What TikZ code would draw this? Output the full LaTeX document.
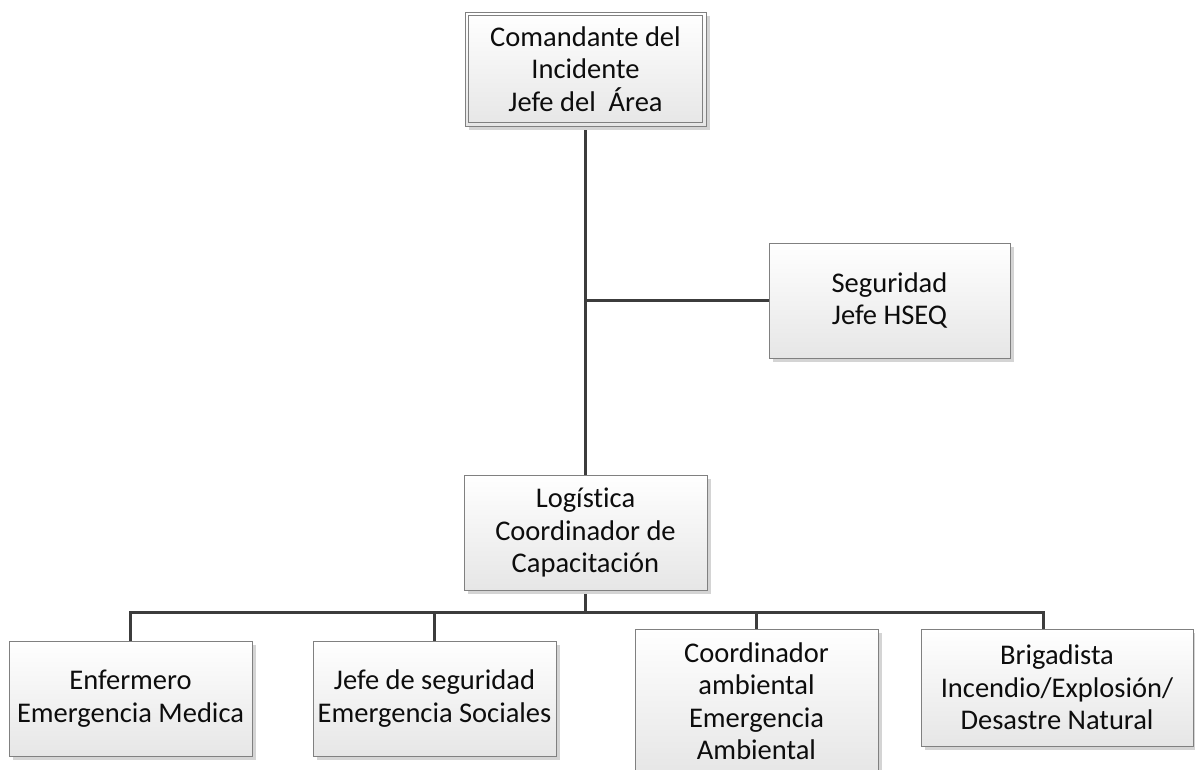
\documentclass[tikz,border=0pt]{standalone}
\usepackage{fontspec}
\setmainfont[Ligatures={NoCommon}]{Carlito}
\usetikzlibrary{shadows,backgrounds}
\definecolor{linec}{HTML}{3C3C3C}
\definecolor{boxborder}{HTML}{808080}
\definecolor{boxbottom}{HTML}{E6E6E6}
\definecolor{shadowc}{HTML}{D4D4D4}
\definecolor{textc}{HTML}{0D0D0D}
\tikzset{
  orgbox/.style={draw=boxborder, line width=0.8pt, top color=white, bottom color=boxbottom,
    drop shadow={shadow xshift=4pt, shadow yshift=-4pt, fill=shadowc, opacity=1},
    align=center, inner sep=0pt, text=textc,
    font=\fontsize{28.5}{32.5}\selectfont},
  conn/.style={draw=linec, line width=3pt}
}
\begin{document}
\begin{tikzpicture}[x=1pt,y=-1pt]
\useasboundingbox (0,0) rectangle (1195,770);
\clip (0,0) rectangle (1195,770);
\node[orgbox, minimum width=241pt, minimum height=114pt] (top) at (585.5,69) {Comandante del\\Incidente\\Jefe del~ Área};
\draw[boxborder, line width=0.8pt] ([xshift=4pt,yshift=-4pt]top.north west) rectangle ([xshift=-4pt,yshift=4pt]top.south east);
\node[orgbox, minimum width=241pt, minimum height=115pt] (seg) at (889.5,300.5) {Seguridad\\Jefe HSEQ};
\node[orgbox, minimum width=243pt, minimum height=115pt] (log) at (585.5,532.5) {Logística\\Coordinador de\\Capacitación};
\node[orgbox, minimum width=243pt, minimum height=115pt] (enf) at (130.5,698.5) {Enfermero\\Emergencia Medica};
\node[orgbox, minimum width=243pt, minimum height=115pt] (jefe) at (434.5,698.5) {Jefe de seguridad\\Emergencia Sociales};
\node[orgbox, minimum width=243pt, minimum height=144pt] (coord) at (756.5,701) {Coordinador\\ambiental\\Emergencia\\Ambiental};
\node[orgbox, minimum width=272pt, minimum height=117pt] (brig) at (1057,687.5) {Brigadista\\Incendio/Explosión/\\Desastre Natural};
\coordinate (bus) at (0,612);
\coordinate (bdrop) at (1043,612);
\begin{pgfonlayer}{background}
\draw[conn] (top.south) -- (log.north);
\draw[conn] (top.south |- seg.west) -- (seg.west);
\draw[conn] (log.south) -- (log.south |- bus);
\draw[conn] (enf.north) -- (enf.north |- bus) -- (bdrop) -- (bdrop |- brig.north);
\draw[conn] (jefe.north |- bus) -- (jefe.north);
\draw[conn] (coord.north |- bus) -- (coord.north);
\end{pgfonlayer}
\end{tikzpicture}
\end{document}
